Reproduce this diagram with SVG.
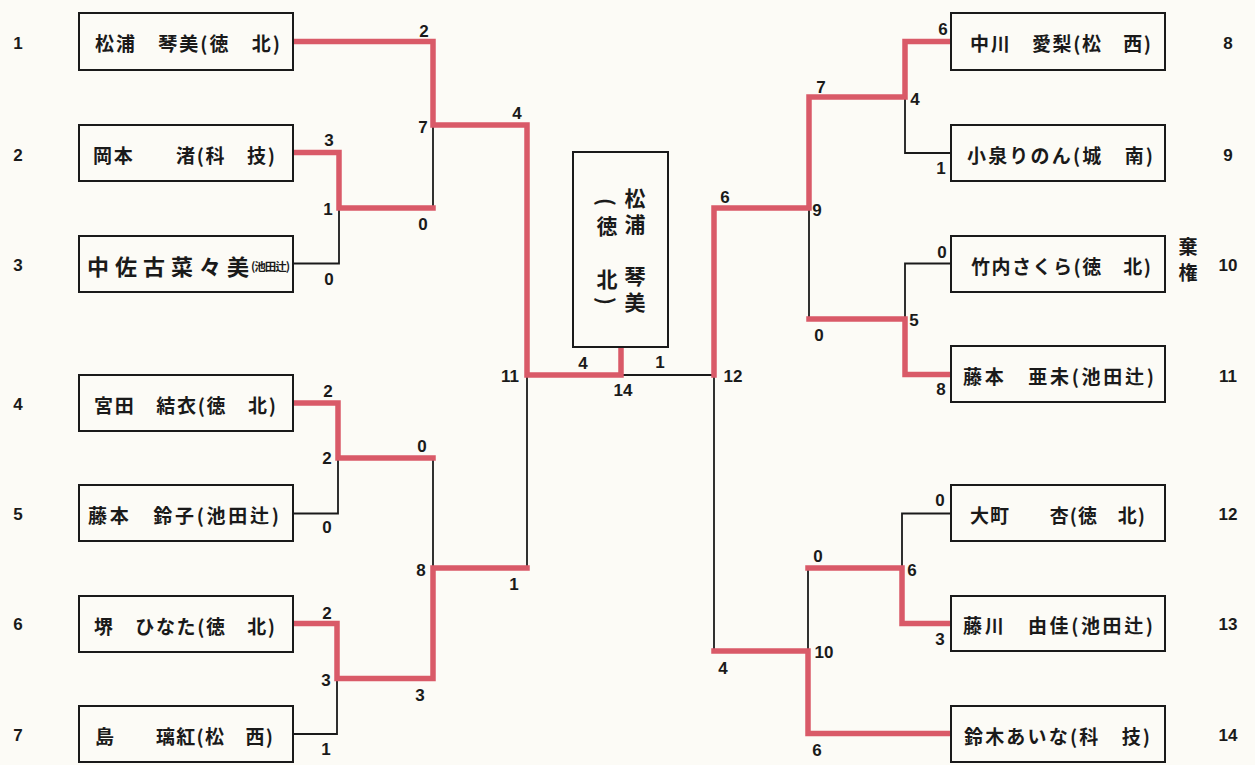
<svg xmlns="http://www.w3.org/2000/svg" width="1255" height="765" viewBox="0 0 1255 765">
<style>
.bg{fill:#fcfbf6}
.box{fill:#fcfbf6;stroke:#1a1a1a;stroke-width:2}
.name{font-family:"Noto Sans CJK JP","Noto Sans CJK SC",sans-serif;font-weight:bold;font-size:19px;fill:#1a1a1a;dominant-baseline:central}
.small{font-size:11.5px}
.big{font-size:22px}
.num{font-family:"Liberation Sans",Arial,sans-serif;font-weight:bold;font-size:17px;fill:#1a1a1a;text-anchor:middle;dominant-baseline:central}
.vt{font-family:"Noto Sans CJK JP","Noto Sans CJK SC",sans-serif;font-weight:bold;font-size:21px;fill:#1a1a1a;text-anchor:middle;writing-mode:vertical-rl;letter-spacing:5px}
.vc{font-family:"Noto Sans CJK JP","Noto Sans CJK SC",sans-serif;font-weight:bold;font-size:21px;fill:#1a1a1a;text-anchor:middle;dominant-baseline:central}
.kk{font-family:"Noto Sans CJK JP","Noto Sans CJK SC",sans-serif;font-weight:bold;font-size:19px;fill:#1a1a1a;text-anchor:middle;writing-mode:vertical-rl;letter-spacing:7px}
.blk{fill:none;stroke:#1a1a1a;stroke-width:1.8}
.red{fill:none;stroke:#d95a68;stroke-width:5.5;stroke-linecap:square;stroke-linejoin:miter}
</style>
<rect class="bg" x="0" y="0" width="1255" height="765"/>
<g id="connectors">
<path class="blk" d="M293,263.5 H339 V208"/>
<path class="blk" d="M433,125 V208"/>
<path class="blk" d="M293,513.5 H338 V458"/>
<path class="blk" d="M433,458 V568"/>
<path class="blk" d="M293,734 H337 V678.5"/>
<path class="blk" d="M527,375 V568"/>
<path class="blk" d="M621,375 H714"/>
<path class="blk" d="M951,153 H905 V97"/>
<path class="blk" d="M951,263.5 H905 V319"/>
<path class="blk" d="M809,208 V319"/>
<path class="blk" d="M714,375 V651"/>
<path class="blk" d="M808,568 V651"/>
<path class="blk" d="M951,513.5 H902 V568"/>
<path class="red" d="M293,41.5 H433 V125 H527 V375 H621 V350"/>
<path class="red" d="M293,152.5 H339 V208 H433"/>
<path class="red" d="M293,403 H338 V458 H433"/>
<path class="red" d="M293,623.5 H337 V678.5 H433 V568 H527"/>
<path class="red" d="M951,41.5 H905 V97 H809 V208 H714 V375"/>
<path class="red" d="M951,374.5 H905 V319 H809"/>
<path class="red" d="M714,651 H808 V733.5 H951"/>
<path class="red" d="M808,568 H902 V623.5 H951"/>
</g>
<g id="p1"><rect class="box" x="79" y="13" width="214" height="57"/><text class="name" x="95" y="42.5" textLength="185" lengthAdjust="spacing">松浦　琴美(徳　北)</text><text class="num" x="18" y="43">1</text></g>
<g id="p2"><rect class="box" x="79" y="125" width="214" height="56"/><text class="name" x="93" y="154" textLength="182" lengthAdjust="spacing">岡本　　渚(科　技)</text><text class="num" x="18" y="155">2</text></g>
<g id="p3"><rect class="box" x="79" y="236" width="214" height="56"/><text class="name big" x="87" y="265" textLength="162" lengthAdjust="spacing">中佐古菜々美</text><text class="name small" x="251" y="266" textLength="39" lengthAdjust="spacing">(池田辻)</text><text class="num" x="18" y="265">3</text></g>
<g id="p4"><rect class="box" x="79" y="375" width="214" height="56"/><text class="name" x="94" y="404" textLength="182" lengthAdjust="spacing">宮田　結衣(徳　北)</text><text class="num" x="18" y="404">4</text></g>
<g id="p5"><rect class="box" x="79" y="485" width="214" height="56"/><text class="name" x="88" y="514" textLength="191" lengthAdjust="spacing">藤本　鈴子(池田辻)</text><text class="num" x="18" y="514">5</text></g>
<g id="p6"><rect class="box" x="79" y="596" width="214" height="56"/><text class="name" x="94" y="625" textLength="181" lengthAdjust="spacing">堺　ひなた(徳　北)</text><text class="num" x="18" y="624">6</text></g>
<g id="p7"><rect class="box" x="79" y="706" width="214" height="56"/><text class="name" x="95" y="735" textLength="178" lengthAdjust="spacing">島　　璃紅(松　西)</text><text class="num" x="18" y="735">7</text></g>
<g id="p8"><rect class="box" x="951" y="13" width="214" height="57"/><text class="name" x="970" y="42.5" textLength="181" lengthAdjust="spacing">中川　愛梨(松　西)</text><text class="num" x="1228" y="43">8</text></g>
<g id="p9"><rect class="box" x="951" y="125" width="214" height="56"/><text class="name" x="967" y="154" textLength="186" lengthAdjust="spacing">小泉りのん(城　南)</text><text class="num" x="1228" y="155">9</text></g>
<g id="p10"><rect class="box" x="951" y="236" width="214" height="56"/><text class="name" x="971" y="265" textLength="180" lengthAdjust="spacing">竹内さくら(徳　北)</text><text class="num" x="1228" y="265">10</text><text class="kk" x="1188" y="263">棄権</text></g>
<g id="p11"><rect class="box" x="951" y="346" width="214" height="56"/><text class="name" x="963" y="375" textLength="191" lengthAdjust="spacing">藤本　亜未(池田辻)</text><text class="num" x="1228" y="376">11</text></g>
<g id="p12"><rect class="box" x="951" y="485" width="214" height="56"/><text class="name" x="970" y="514" textLength="175" lengthAdjust="spacing">大町　　杏(徳　北)</text><text class="num" x="1228" y="514">12</text></g>
<g id="p13"><rect class="box" x="951" y="596" width="214" height="55"/><text class="name" x="963" y="624" textLength="190" lengthAdjust="spacing">藤川　由佳(池田辻)</text><text class="num" x="1228" y="624">13</text></g>
<g id="p14"><rect class="box" x="951" y="706" width="214" height="56"/><text class="name" x="964" y="735" textLength="186" lengthAdjust="spacing">鈴木あいな(科　技)</text><text class="num" x="1228" y="735">14</text></g>
<g id="champion"><rect class="box" x="573" y="152" width="95" height="195"/>
<text class="vt" x="635" y="253">松浦　琴美</text>
<text class="vc" x="607" y="202" transform="rotate(90 607 202)">(</text>
<text class="vc" x="607" y="225">徳</text>
<text class="vc" x="607" y="278">北</text>
<text class="vc" x="607" y="301" transform="rotate(90 607 301)">)</text></g>
<g id="scores">
<text class="num" x="424" y="31">2</text><text class="num" x="423" y="127">7</text><text class="num" x="517" y="113">4</text><text class="num" x="329" y="140">3</text><text class="num" x="328" y="209">1</text><text class="num" x="423" y="224">0</text><text class="num" x="329" y="279">0</text>
<text class="num" x="328" y="391">2</text><text class="num" x="327" y="458">2</text><text class="num" x="327" y="527">0</text><text class="num" x="422" y="446">0</text><text class="num" x="421" y="570">8</text><text class="num" x="514" y="584">1</text><text class="num" x="327" y="613">2</text><text class="num" x="326" y="680">3</text><text class="num" x="420" y="695">3</text><text class="num" x="326" y="749">1</text><text class="num" x="510" y="376">11</text>
<text class="num" x="583" y="363">4</text><text class="num" x="660" y="362">1</text><text class="num" x="623" y="390">14</text><text class="num" x="733" y="376">12</text>
<text class="num" x="943" y="29">6</text><text class="num" x="821" y="87">7</text><text class="num" x="915" y="99">4</text><text class="num" x="941" y="168">1</text><text class="num" x="725" y="197">6</text><text class="num" x="817" y="210">9</text><text class="num" x="942" y="252">0</text><text class="num" x="914" y="320">5</text><text class="num" x="819" y="335">0</text><text class="num" x="941" y="389">8</text>
<text class="num" x="940" y="500">0</text><text class="num" x="912" y="570">6</text><text class="num" x="818" y="556">0</text><text class="num" x="940" y="639">3</text><text class="num" x="824" y="652">10</text><text class="num" x="723" y="668">4</text><text class="num" x="817" y="750">6</text>
</g>
</svg>
